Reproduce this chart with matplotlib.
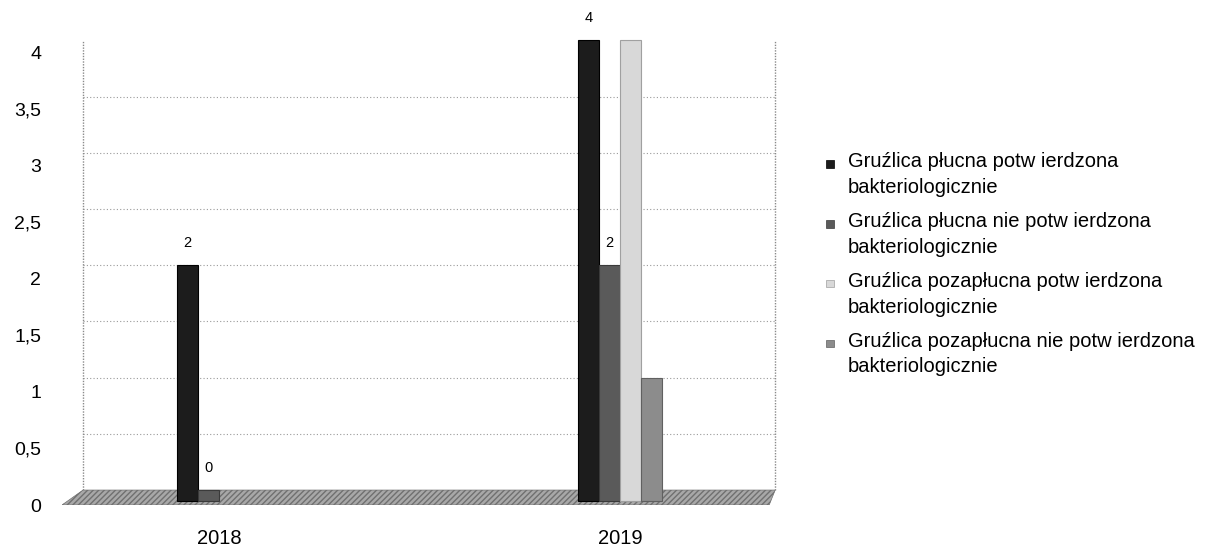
import numpy as np
import matplotlib.pyplot as plt
from matplotlib.patches import Polygon, Patch, Rectangle
from matplotlib.legend_handler import HandlerPatch

plt.rcParams['font.family'] = ['Liberation Sans', 'DejaVu Sans']

years = ["2018", "2019"]
series_names = [
    "Gruźlica płucna potw ierdzona\nbakteriologicznie",
    "Gruźlica płucna nie potw ierdzona\nbakteriologicznie",
    "Gruźlica pozapłucna potw ierdzona\nbakteriologicznie",
    "Gruźlica pozapłucna nie potw ierdzona\nbakteriologicznie",
]
pluc_potw = [2, 4]
pluc_nie_potw = [0, 2]
pozapluc_potw = [np.nan, 4]
pozapluc_nie_potw = [np.nan, 1]
y_ticks = [0, 0.5, 1, 1.5, 2, 2.5, 3, 3.5, 4]
y_tick_labels = ["0", "0,5", "1", "1,5", "2", "2,5", "3", "3,5", "4"]

series = [pluc_potw, pluc_nie_potw, pozapluc_potw, pozapluc_nie_potw]
colors = ["#1c1c1c", "#5a5a5a", "#d8d8d8", "#8c8c8c"]
edges = ["#000000", "#3a3a3a", "#a0a0a0", "#606060"]
labelled = [True, True, False, False]

W, H = 1224, 549
fig = plt.figure(figsize=(W / 100, H / 100), dpi=100)
ax = fig.add_axes([62 / W, (H - 505) / H, (778 - 62) / W, (505 - 39) / H])
ax.set_xlim(-0.3915, 1.394)
ax.set_ylim(-0.133, 4.012)
for s in ax.spines.values():
    s.set_visible(False)

x = np.arange(len(years))
bw = 0.05
pitch = 0.0524
floor = -0.1

# back wall and gridlines
wall_l, wall_r = -0.339, 1.387
ax.hlines(y_ticks[1:-1], wall_l, wall_r, colors="#9a9a9a", linestyles=(0, (1, 2)), lw=0.8, zorder=1)
ax.vlines([wall_l, wall_r], 0, 4, colors="#8a8a8a", linestyles=(0, (1, 1)), lw=1.0, zorder=1)

# floor
floor_poly = Polygon([(-0.3915, -0.133), (wall_l, 0.0), (wall_r, 0.0), (1.372, -0.133)],
                     closed=True, facecolor="#a8a8a8", edgecolor="#707070",
                     hatch="//////", lw=0.5, zorder=2)
ax.add_patch(floor_poly)

for i, vals in enumerate(series):
    vals = np.array(vals, dtype=float)
    xpos = x + (i - 1.5) * pitch
    ax.bar(xpos, vals - floor, bottom=floor, width=bw, color=colors[i],
           edgecolor=edges[i], lw=0.8, zorder=3)
    if labelled[i]:
        for xp, v in zip(xpos, vals):
            if not np.isnan(v):
                ax.text(xp, v + 0.2, f"{v:g}", ha="center", va="center",
                        fontsize=10.5, zorder=4)

ax.set_xticks(x)
ax.set_xticklabels(years, fontsize=14.5)
ax.tick_params(axis="x", length=0, pad=17)
ax.set_yticks([])

# y tick labels on front edge scale
ax2 = fig.add_axes(ax.get_position(), frameon=False)
ax2.set_ylim(0.026, 4.123)
ax2.set_xticks([])
ax2.set_yticks(y_ticks)
ax2.set_yticklabels(y_tick_labels, fontsize=14)
ax2.tick_params(axis="y", length=0, pad=15)
ax2.patch.set_alpha(0)


def top_square(legend, orig_handle, xdescent, ydescent, width, height, fontsize):
    s = 0.38 * fontsize
    return Rectangle((-xdescent, -ydescent + height - s * 1.25), s, s)


handles = [Patch(facecolor=c, edgecolor=e, lw=0.5) for c, e in zip(colors, edges)]
leg = fig.legend(handles, series_names, loc="upper left", bbox_to_anchor=(818 / W, 1 - 144 / H),
                 frameon=False, fontsize=14.5, handlelength=0.38, handleheight=2.3,
                 handletextpad=0.7, labelspacing=0.75, borderaxespad=0,
                 handler_map={Patch: HandlerPatch(patch_func=top_square)})
for t in leg.get_texts():
    t.set_linespacing(1.45)

fig.savefig("out.png", dpi=100)
